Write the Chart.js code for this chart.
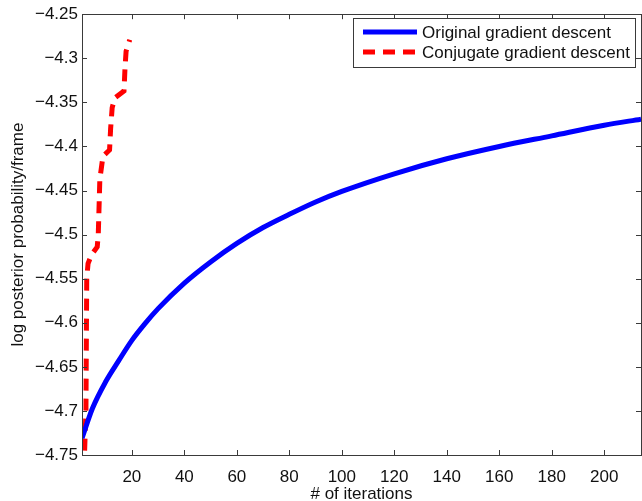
<!DOCTYPE html>
<html>
<head>
<meta charset="utf-8">
<script src="https://cdn.jsdelivr.net/npm/chart.js@4"></script>
<style>
  html, body { margin: 0; padding: 0; background: #fff; overflow: hidden; }
  #wrap { position: relative; width: 642px; height: 501px; }
</style>
</head>
<body>
<div id="wrap"><canvas id="c"></canvas></div>
<script>
// ─── data ─────────────────────────────────────────────────────────────────

const xTicks = [20, 40, 60, 80, 100, 120, 140, 160, 180, 200];
const yTicks = [-4.75, -4.7, -4.65, -4.6, -4.55, -4.5, -4.45, -4.4, -4.35, -4.3, -4.25];

// original gradient descent
const origIter = [1, 5, 10, 15, 20, 25, 30, 40, 50, 60, 70, 80, 90, 100, 120, 140, 160, 180, 200, 214];
const origVal  = [-4.731, -4.697, -4.667, -4.643, -4.620, -4.601, -4.584, -4.555, -4.531, -4.510,
                  -4.492, -4.477, -4.463, -4.451, -4.431, -4.414, -4.400, -4.388, -4.376, -4.369];

// conjugate gradient descent
const conjIter = [2, 2.5, 2.8, 3.3, 4.6, 6.8, 7.2, 7.8, 9.0, 11.5, 11.9, 12.5, 13.5, 17.0, 17.4, 17.8, 19.2];
const conjVal  = [-4.745, -4.70, -4.55, -4.533, -4.523, -4.514, -4.50, -4.437, -4.411, -4.404,
                  -4.38, -4.356, -4.345, -4.337, -4.31, -4.292, -4.279];

const labels = ['Original gradient descent', 'Conjugate gradient descent'];

// ─── style ────────────────────────────────────────────────────────────────
const FONT = "'Liberation Sans', Arial, Helvetica, sans-serif";
const AX   = '#3a3a3a';
const TXT  = '#111';

Chart.defaults.font.family = FONT;
Chart.defaults.font.size   = 17;
Chart.defaults.color       = TXT;

const fmt = v => String(Math.round(v * 100) / 100).replace('-', '\u2212');
const pairs = (xs, ys) => xs.map((x, i) => ({ x, y: ys[i] }));

// box, inner ticks on all four sides, legend inside the top right corner
const boxPlugin = {
  id: 'box',
  afterDraw(chart) {
    const { ctx, chartArea: a, scales: { x, y } } = chart;
    const L = 5;
    ctx.save();
    ctx.strokeStyle = AX;
    ctx.lineWidth = 1;
    ctx.beginPath();
    xTicks.forEach(t => {
      const px = Math.round(x.getPixelForValue(t)) + 0.5;
      ctx.moveTo(px, a.bottom); ctx.lineTo(px, a.bottom - L);
      ctx.moveTo(px, a.top);    ctx.lineTo(px, a.top + L);
    });
    yTicks.forEach(t => {
      const py = Math.round(y.getPixelForValue(t)) + 0.5;
      ctx.moveTo(a.left, py);  ctx.lineTo(a.left + L, py);
      ctx.moveTo(a.right, py); ctx.lineTo(a.right - L, py);
    });
    ctx.stroke();
    ctx.strokeRect(Math.round(a.left) + 0.5, Math.round(a.top) + 0.5,
                   Math.round(a.right - a.left), Math.round(a.bottom - a.top));

    // legend
    const bx = 353.5, by = 18.5, bw = 282, bh = 49;
    ctx.fillStyle = '#fff';
    ctx.fillRect(bx, by, bw, bh);
    ctx.strokeRect(bx, by, bw, bh);
    ctx.font = `17px ${FONT}`;
    ctx.textBaseline = 'middle';
    chart.data.datasets.forEach((ds, i) => {
      const ry = 32 + i * 20;
      ctx.strokeStyle = ds.borderColor;
      ctx.lineWidth = ds.borderWidth;
      ctx.setLineDash(ds.borderDash || []);
      ctx.beginPath();
      ctx.moveTo(363, ry); ctx.lineTo(417, ry);
      ctx.stroke();
      ctx.setLineDash([]);
      ctx.fillStyle = TXT;
      ctx.fillText(ds.label, 422, ry + 1);
    });
    ctx.restore();
  },
};

new Chart(document.getElementById('c'), {
  type: 'line',
  data: {
    datasets: [
      {
        label: labels[0],
        data: pairs(origIter, origVal),
        borderColor: '#0000FF',
        borderWidth: 5,
        pointRadius: 0,
        cubicInterpolationMode: 'monotone',
        fill: false,
      },
      {
        label: labels[1],
        data: pairs(conjIter, conjVal),
        borderColor: '#FF0000',
        borderWidth: 5,
        borderDash: [12, 8],
        borderCapStyle: 'butt',
        pointRadius: 0,
        tension: 0,
        fill: false,
      },
    ],
  },
  options: {
    responsive: true,
    maintainAspectRatio: false,
    animation: false,
    layout: { padding: { left: 0, top: 9, right: 1, bottom: 0 } },
    plugins: { legend: { display: false }, tooltip: { enabled: false } },
    scales: {
      x: {
        type: 'linear',
        min: 1, max: 214,
        afterBuildTicks: s => { s.ticks = xTicks.map(v => ({ value: v })); },
        afterFit: s => { s.height = 46; },
        grid: { display: false, drawTicks: false },
        border: { display: false },
        ticks: { padding: 12, color: TXT, maxRotation: 0, autoSkip: false },
        title: { display: true, text: '# of iterations', color: TXT, padding: { top: 0, bottom: -4 } },
      },
      y: {
        type: 'linear',
        min: -4.75, max: -4.25,
        afterBuildTicks: s => { s.ticks = yTicks.map(v => ({ value: v })); },
        afterFit: s => { s.width = 82; },
        grid: { display: false, drawTicks: false },
        border: { display: false },
        ticks: { padding: 4, color: TXT, autoSkip: false, callback: v => fmt(v) },
        title: { display: true, text: 'log posterior probability/frame', color: TXT, padding: { top: 8, bottom: 0 } },
      },
    },
  },
  plugins: [boxPlugin],
});
</script>
</body>
</html>
